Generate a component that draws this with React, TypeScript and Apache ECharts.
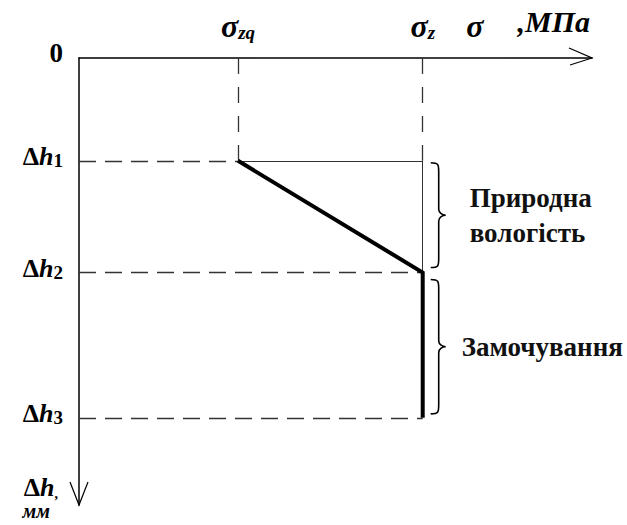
import React, { useEffect, useRef } from "react";
import * as echarts from "echarts";

// Axis extents (schematic units)
const SIGMA_MAX = 10;
const DEPTH_MAX = 10;

// Stress ticks: σzq and σz
const sigmaTicks = [3.1, 6.7];
const sigmaSubs = ["zq", "z"];

// Settlement ticks: 0, Δh1, Δh2, Δh3
const depthTicks = [0, 2.3, 4.8, 8.05];
const depthSubs = ["", "1", "2", "3"];

// Stress–settlement profile
const profileSigma = [3.1, 6.7, 6.7];
const profileDepth = [2.3, 4.8, 8.05];

// Loading stages marked with braces
const stageFrom = [2.3, 4.8];
const stageTo = [4.8, 8.05];
const stageNames = ["Природна\nвологість", "Замочування"];

const SERIF = "'Liberation Serif', serif";
const INK = "#000";
const GUIDE = "#333";

const richBase = {
  z: { fontFamily: SERIF, fontWeight: "bold", fontSize: 27, color: INK, lineHeight: 28 },
  d: { fontFamily: SERIF, fontWeight: "bold", fontSize: 26, color: INK, lineHeight: 28, verticalAlign: "bottom" },
  h: { fontFamily: SERIF, fontWeight: "bold", fontStyle: "italic", fontSize: 26, color: INK, lineHeight: 28, verticalAlign: "bottom" },
  s: { fontFamily: SERIF, fontWeight: "bold", fontStyle: "italic", fontSize: 32, color: INK, lineHeight: 30, verticalAlign: "bottom" },
  sub: { fontFamily: SERIF, fontWeight: "bold", fontStyle: "italic", fontSize: 19, color: INK, lineHeight: 18, verticalAlign: "bottom", padding: [12, 0, 0, 0] },
  n: { fontFamily: SERIF, fontWeight: "bold", fontSize: 19, color: INK, lineHeight: 18, verticalAlign: "bottom", padding: [10, 0, 0, 0] },
  g: { fontFamily: SERIF, fontWeight: "bold", fontStyle: "italic", fontSize: 32, color: INK, lineHeight: 30, verticalAlign: "bottom", padding: [0, 34, 0, 0] },
  u: { fontFamily: SERIF, fontWeight: "bold", fontStyle: "italic", fontSize: 30, color: INK, lineHeight: 30, verticalAlign: "bottom", padding: [0, 0, 6, 0] },
  mm: { fontFamily: SERIF, fontWeight: "bold", fontStyle: "italic", fontSize: 20, color: INK, lineHeight: 22, padding: [0, 8, 0, 0] },
  c: { fontFamily: SERIF, fontWeight: "bold", fontSize: 14, color: INK, lineHeight: 28, verticalAlign: "bottom" },
};

function bracePath(x0: number, top: number, bot: number): string {
  const xm = x0 + 8;
  const xp = x0 + 15;
  const mid = (top + bot) / 2;
  return [
    `M ${x0} ${top}`,
    `C ${xm} ${top} ${xm} ${top + 2} ${xm} ${top + 9}`,
    `L ${xm} ${mid - 6}`,
    `C ${xm} ${mid - 2} ${xp - 3} ${mid} ${xp} ${mid}`,
    `C ${xp - 3} ${mid} ${xm} ${mid + 2} ${xm} ${mid + 6}`,
    `L ${xm} ${bot - 9}`,
    `C ${xm} ${bot - 2} ${xm} ${bot} ${x0} ${bot}`,
  ].join(" ");
}

export default function App() {
  const ref = useRef<HTMLDivElement>(null);

  useEffect(() => {
    if (!ref.current) return;
    const chart = echarts.init(ref.current, null, { renderer: "svg" });

    const sZq = sigmaTicks[0];
    const sZ = sigmaTicks[1];
    const [h1, h2, h3] = depthTicks.slice(1);

    const dashedV = [
      [[sZq, 0], [sZq, h1]],
      [[sZ, 0], [sZ, h1]],
    ];
    const dashedH = [
      [[0, h1], [sZq, h1]],
      [[0, h2], [sZ, h2]],
      [[0, h3], [sZ, h3]],
    ];
    const solidThin = [
      [[sZq, h1], [sZ, h1]],
      [[sZ, h1], [sZ, h2]],
    ];

    const option: any = {
      animation: false,
      backgroundColor: "#fff",
      textStyle: { fontFamily: SERIF },
      grid: { left: 79, top: 58, right: 35, bottom: 20 },
      xAxis: {
        type: "value",
        position: "top",
        min: 0,
        max: SIGMA_MAX,
        splitLine: { show: false },
        axisTick: { show: false },
        axisLine: { show: true, onZero: false, lineStyle: { color: INK, width: 1.5 } },
        axisLabel: {
          customValues: sigmaTicks,
          margin: 16,
          fontFamily: SERIF,
          formatter: (v: number) => {
            const i = sigmaTicks.indexOf(v);
            return `{s|σ}{sub|${sigmaSubs[i]}}`;
          },
          rich: richBase,
        },
        name: "{g|σ}{u|,МПа}",
        nameLocation: "end",
        nameGap: -2,
        nameTextStyle: { fontFamily: SERIF, align: "right", verticalAlign: "bottom", padding: [0, 0, 16, 0], rich: richBase },
      },
      yAxis: {
        type: "value",
        inverse: true,
        min: 0,
        max: DEPTH_MAX,
        splitLine: { show: false },
        axisTick: { show: false },
        axisLine: { show: true, onZero: false, lineStyle: { color: INK, width: 1.5 } },
        axisLabel: {
          customValues: depthTicks,
          margin: 16,
          fontFamily: SERIF,
          padding: [0, 0, 10, 0],
          formatter: (v: number) => {
            const i = depthTicks.indexOf(v);
            if (i === 0) return "{z|0}";
            return `{d|Δ}{h|h}{n|${depthSubs[i]}}`;
          },
          rich: richBase,
        },
        name: "{d|Δ}{h|h}{c|,}\n{mm|мм}",
        nameLocation: "end",
        nameGap: -8,
        nameTextStyle: { fontFamily: SERIF, align: "right", verticalAlign: "middle", padding: [0, 21, 0, 0], rich: richBase },
      },
      series: [
        {
          type: "lines",
          coordinateSystem: "cartesian2d",
          silent: true,
          lineStyle: { color: GUIDE, width: 1.3, type: [16, 13], opacity: 1 },
          data: dashedV.map((c) => ({ coords: c })),
        },
        {
          type: "lines",
          coordinateSystem: "cartesian2d",
          silent: true,
          lineStyle: { color: GUIDE, width: 1.3, type: [17, 9], opacity: 1 },
          data: dashedH.map((c) => ({ coords: c })),
        },
        {
          type: "lines",
          coordinateSystem: "cartesian2d",
          silent: true,
          lineStyle: { color: GUIDE, width: 1, type: "solid", opacity: 1 },
          data: solidThin.map((c) => ({ coords: c })),
        },
        {
          type: "line",
          silent: true,
          showSymbol: false,
          symbol: "none",
          lineStyle: { color: INK, width: 4, cap: "butt", join: "miter" },
          data: profileSigma.map((s, i) => [s, profileDepth[i]]),
        },
        {
          // stage braces with their captions
          type: "custom",
          silent: true,
          clip: false,
          encode: { x: 0, y: [1, 2] },
          data: stageFrom.map((f, i) => [sZ, f, stageTo[i], i]),
          renderItem: (params: any, api: any) => {
            const idx = api.value(3);
            const pTop = api.coord([api.value(0), api.value(1)]);
            const pBot = api.coord([api.value(0), api.value(2)]);
            const x0 = pTop[0] + 8;
            const top = idx === 0 ? pTop[1] + 2 : pTop[1] + 7;
            const bot = idx === 0 ? pBot[1] - 5 : pBot[1] - 4;
            const mid = (top + bot) / 2;
            return {
              type: "group",
              children: [
                {
                  type: "path",
                  shape: { pathData: bracePath(x0, top, bot) },
                  style: { stroke: INK, lineWidth: 1.6, fill: "none" },
                },
                {
                  type: "text",
                  x: x0 + (idx === 0 ? 39 : 31),
                  y: mid,
                  style: {
                    text: stageNames[idx],
                    font: `bold 27px ${SERIF}`,
                    lineHeight: 35,
                    fill: "#111",
                    align: "left",
                    verticalAlign: "middle",
                  },
                },
              ],
            };
          },
        },
        {
          // open arrowheads at the axis ends
          type: "custom",
          silent: true,
          clip: false,
          encode: { x: 0, y: 1 },
          data: [
            [SIGMA_MAX, 0, 0],
            [0, DEPTH_MAX, 1],
          ],
          renderItem: (params: any, api: any) => {
            const p = api.coord([api.value(0), api.value(1)]);
            const kind = api.value(2);
            const pts =
              kind === 0
                ? [[p[0] - 23, p[1] - 10], [p[0], p[1]], [p[0] - 22, p[1] + 7]]
                : [[p[0] - 9, p[1] - 23], [p[0], p[1]], [p[0] + 9, p[1] - 23]];
            return {
              type: "polyline",
              shape: { points: pts },
              style: { stroke: INK, lineWidth: 1.2, fill: "none" },
            };
          },
        },
      ],
    };

    chart.setOption(option);
    return () => chart.dispose();
  }, []);

  return (
    <div
      ref={ref}
      style={{ position: "fixed", left: 0, top: 0, width: 627, height: 525, background: "#fff" }}
    />
  );
}
